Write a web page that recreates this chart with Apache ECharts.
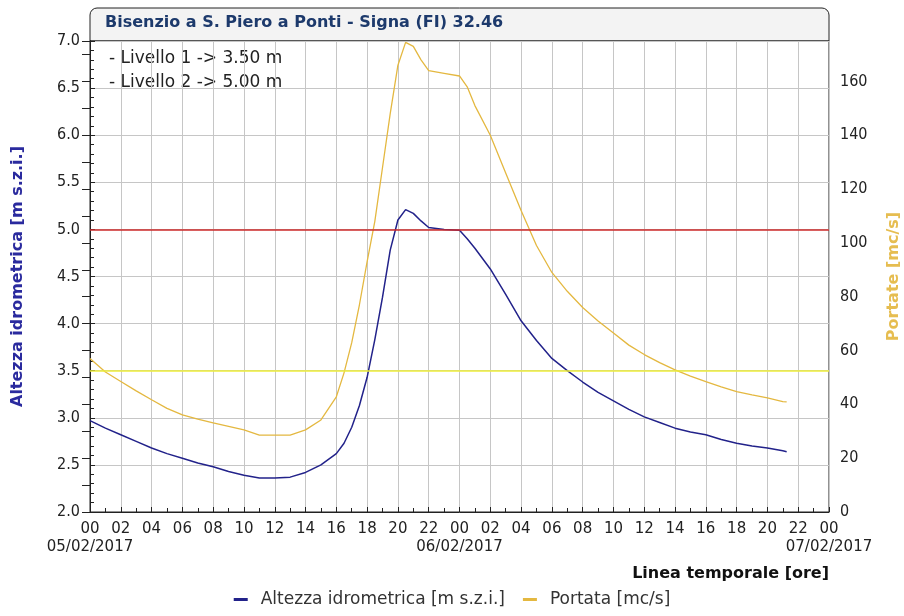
<!DOCTYPE html>
<html>
<head>
<meta charset="utf-8">
<script src="https://cdn.jsdelivr.net/npm/echarts@6/dist/echarts.min.js"></script>
<style>
  html, body { margin: 0; padding: 0; background: #fff; }
  #chart { width: 904px; height: 616px; }
</style>
</head>
<body>
<div id="chart"></div>
<script>
// ore dall'inizio del 05/02/2017
const hours = [0, 1, 2, 3, 4, 5, 6, 7, 8, 9, 10, 11, 12, 13, 14, 15, 16, 16.5, 17, 17.5,
  18, 18.5, 19, 19.5, 20, 20.5, 21, 21.5, 22, 23, 24, 24.5, 25, 26, 27, 28, 29, 30, 31, 32,
  33, 34, 35, 36, 37, 38, 39, 40, 41, 42, 43, 44, 45, 45.25];
// altezza idrometrica [m]
const livello = [2.97, 2.89, 2.82, 2.75, 2.68, 2.62, 2.57, 2.52, 2.48, 2.43, 2.39, 2.36, 2.36, 2.37, 2.42, 2.50, 2.62, 2.73, 2.90, 3.13,
  3.43, 3.83, 4.28, 4.78, 5.10, 5.21, 5.17, 5.09, 5.02, 5.00, 4.99, 4.90, 4.80, 4.58, 4.31, 4.03, 3.82, 3.63, 3.50, 3.38,
  3.27, 3.18, 3.09, 3.01, 2.95, 2.89, 2.85, 2.82, 2.77, 2.73, 2.70, 2.68, 2.65, 2.64];
// portata [mc/s]
const portata = [57, 52, 48.5, 45, 41.7, 38.5, 36.1, 34.5, 33.1, 31.8, 30.5, 28.6, 28.6, 28.6, 30.5, 34.2, 42.8, 51.7, 62.9, 77,
  93, 108, 128, 148, 166, 174.5, 173, 168, 164, 163, 162, 158, 151, 140, 126, 112, 99, 89, 82, 76,
  71, 66.5, 62, 58.5, 55.5, 52.8, 50.5, 48.4, 46.5, 44.7, 43.5, 42.4, 41, 40.9];

const dates = ['05/02/2017', '06/02/2017', '07/02/2017'];
const soglie = [3.5, 5.0]; // Livello 1, Livello 2

const FONT = '"DejaVu Sans", sans-serif';
const FONT_C = '"DejaVu Sans Condensed", "DejaVu Sans", sans-serif';

const chart = echarts.init(document.getElementById('chart'), null, { renderer: 'canvas' });

chart.setOption({
  animation: false,
  textStyle: { fontFamily: FONT },
  title: {
    text: 'Bisenzio a S. Piero a Ponti - Signa (FI) 32.46',
    left: 105,
    top: 15,
    padding: 0,
    textStyle: { fontFamily: FONT, fontSize: 16, fontWeight: 'bold', color: '#1d3a6c' }
  },
  graphic: [
    {
      type: 'rect', z: -1,
      shape: { x: 90, y: 8, width: 739, height: 33, r: [7, 7, 0, 0] },
      style: { fill: '#f3f3f3', stroke: '#222', lineWidth: 1 }
    },
    {
      type: 'text', left: 109, top: 50,
      style: { text: '- Livello 1 -> 3.50 m', font: '17px ' + FONT, fill: '#222' }
    },
    {
      type: 'text', left: 109, top: 74,
      style: { text: '- Livello 2 -> 5.00 m', font: '17px ' + FONT, fill: '#222' }
    }
  ],
  legend: {
    bottom: 3,
    left: 'center',
    icon: 'rect',
    itemWidth: 14,
    itemHeight: 3,
    itemGap: 18,
    textStyle: { fontFamily: FONT, fontSize: 17, color: '#333', padding: [0, 0, 0, 8] },
    data: ['Altezza idrometrica [m s.z.i.]', 'Portata [mc/s]']
  },
  grid: {
    left: 90, right: 75, top: 41, bottom: 104,
    outerBoundsMode: 'none',
    show: true, borderColor: '#222', borderWidth: 1
  },
  xAxis: [
    {
      type: 'value',
      min: 0, max: 48, interval: 2,
      name: 'Linea temporale [ore]',
      nameLocation: 'end',
      nameGap: 0,
      nameTextStyle: {
        fontFamily: FONT, fontSize: 16, fontWeight: 'bold', color: '#111',
        align: 'right', verticalAlign: 'top', padding: [54, 0, 0, 0]
      },
      axisLine: { lineStyle: { color: '#222' } },
      axisTick: { inside: true, length: 5, lineStyle: { color: '#222' } },
      minorTick: { show: true, splitNumber: 2, length: 4, lineStyle: { color: '#222' } },
      splitLine: { show: true, lineStyle: { color: '#c6c6c6' } },
      axisLabel: {
        margin: 10, fontSize: 15, color: '#222', fontFamily: FONT,
        showMinLabel: true, showMaxLabel: true, hideOverlap: false,
        formatter: function (v) {
          const h = v % 24;
          return (h < 10 ? '0' : '') + h;
        }
      }
    },
    {
      // riga delle date sotto le ore 00
      type: 'value',
      position: 'bottom',
      min: 0, max: 48, interval: 24,
      axisLine: { show: false },
      axisTick: { show: false },
      splitLine: { show: false },
      axisLabel: {
        margin: 28, fontSize: 15, color: '#222', fontFamily: FONT,
        showMinLabel: true, showMaxLabel: true, hideOverlap: false,
        formatter: v => dates[v / 24]
      }
    }
  ],
  yAxis: [
    {
      type: 'value',
      min: 2, max: 7, interval: 0.5,
      name: 'Altezza idrometrica [m s.z.i.]',
      nameLocation: 'middle',
      nameGap: 64,
      nameTextStyle: { fontFamily: FONT, fontSize: 16, fontWeight: 'bold', color: '#2a2a9e' },
      axisLine: { show: true, lineStyle: { color: '#222' } },
      axisTick: { inside: true, length: 5, lineStyle: { color: '#222' } },
      minorTick: { show: true, splitNumber: 5, length: 4, lineStyle: { color: '#222' } },
      splitLine: { show: true, lineStyle: { color: '#c6c6c6' } },
      axisLabel: { margin: 10, fontSize: 16, color: '#222', fontFamily: FONT_C, formatter: v => v.toFixed(1) }
    },
    {
      type: 'value',
      min: 0, max: 175, interval: 20,
      name: 'Portate [mc/s]',
      nameLocation: 'middle',
      nameGap: 57,
      nameRotate: 90,
      nameTextStyle: { fontFamily: FONT, fontSize: 16, fontWeight: 'bold', color: '#e6bd50' },
      axisLine: { show: true, lineStyle: { color: '#222' } },
      axisTick: { inside: true, length: 8, lineStyle: { color: '#222' } },
      minorTick: { show: true, splitNumber: 2, length: 8, lineStyle: { color: '#222' } },
      splitLine: { show: false },
      axisLabel: {
        margin: 11, fontSize: 16, color: '#222', fontFamily: FONT_C,
        formatter: v => (v % 20 === 0 ? String(v) : '')
      }
    }
  ],
  series: [
    {
      name: 'Altezza idrometrica [m s.z.i.]',
      type: 'line',
      yAxisIndex: 0,
      showSymbol: false,
      color: '#22228a',
      lineStyle: { width: 1.5, color: '#22228a' },
      data: hours.map((h, i) => [h, livello[i]]),
      markLine: {
        silent: true,
        symbol: 'none',
        label: { show: false },
        data: [
          { yAxis: soglie[0], lineStyle: { color: '#eeee3a', width: 1.5, type: 'solid' } },
          { yAxis: soglie[1], lineStyle: { color: '#cc2a2a', width: 1.5, type: 'solid' } }
        ]
      }
    },
    {
      name: 'Portata [mc/s]',
      type: 'line',
      yAxisIndex: 1,
      showSymbol: false,
      color: '#e4b840',
      lineStyle: { width: 1.3, color: '#e4b840' },
      data: hours.map((h, i) => [h, portata[i]])
    }
  ]
});
</script>
</body>
</html>
